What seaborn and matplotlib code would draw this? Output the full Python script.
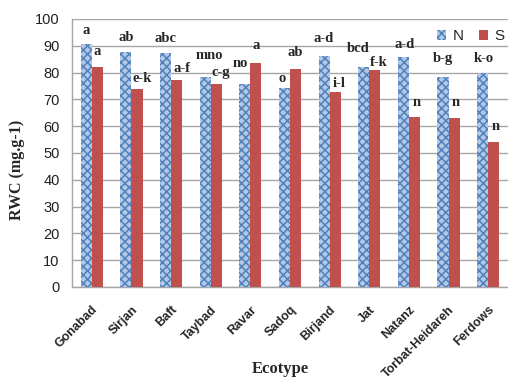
import matplotlib
matplotlib.use("Agg")
import matplotlib.pyplot as plt
from matplotlib.patches import Patch
import seaborn as sns
import pandas as pd

# Relative water content per ecotype under normal (N) and stress (S) conditions
ecotypes = ["Gonabad", "Sirjan", "Baft", "Taybad", "Ravar", "Sadoq",
            "Birjand", "Jat", "Natanz", "Torbat-Heidareh", "Ferdows"]
rwc_n = [90.5, 87.7, 87.3, 78.5, 75.9, 74.3, 86.2, 82.2, 85.7, 78.5, 80.0]
rwc_s = [82.1, 73.7, 77.4, 75.9, 83.6, 81.4, 72.8, 81.0, 63.3, 62.9, 54.0]
letters_n = ["a", "ab", "abc", "mno", "no", "o", "a-d", "bcd", "a-d", "b-g", "k-o"]
letters_s = ["a", "e-k", "a-f", "c-g", "a", "ab", "i-l", "f-k", "n", "n", "n"]
yticks = [0, 10, 20, 30, 40, 50, 60, 70, 80, 90, 100]

# Hand placement of the letter labels (pixels: shift right, baseline gap above bar)
nudge_n = [(0, 10), (0, 11), (0, 11), (4, 18), (-4, 17), (-2, 6),
           (0, 14), (-6, 15), (1, 9), (0, 15), (1, 11)]
nudge_s = [(0, 12), (5, 7), (5, 8), (5, 8), (0, 14), (0, 13),
           (4, 5), (4, 4), (2, 11), (2, 12), (2, 12)]

df = pd.DataFrame({
    "Ecotype": ecotypes * 2,
    "RWC": rwc_n + rwc_s,
    "Treatment": ["N"] * len(ecotypes) + ["S"] * len(ecotypes),
})

sns.set_style("white")
plt.rcParams["font.family"] = ["Liberation Sans", "DejaVu Sans"]
plt.rcParams["hatch.linewidth"] = 1.1

blue_face = "#b3c8e6"
blue_hatch = "#4f81bd"
red = "#c0504d"
grid_c = "#a6a6a6"
serif = ["Liberation Serif", "DejaVu Serif"]

fig = plt.figure(figsize=(5.08, 3.81), dpi=100)
ax = fig.add_axes([72 / 508, 1 - 287 / 381, 436 / 508, 268 / 381])

sns.barplot(data=df, x="Ecotype", y="RWC", hue="Treatment", order=ecotypes,
            hue_order=["N", "S"], palette=[blue_face, red], width=0.56,
            gap=0, errorbar=None, legend=False, ax=ax, zorder=3)

# Patterned fill for the N bars
for bar in ax.containers[0]:
    bar.set_facecolor(blue_face)
    bar.set_edgecolor(blue_hatch)
    bar.set_hatch("xxxx")
    bar.set_linewidth(0)
for bar in ax.containers[1]:
    bar.set_facecolor(red)
    bar.set_edgecolor(red)
    bar.set_linewidth(0)

# Significance letters above each bar
px = 72 / 100
for container, letters, nudges in zip(ax.containers, [letters_n, letters_s],
                                      [nudge_n, nudge_s]):
    for bar, lab, (dx, dy) in zip(container, letters, nudges):
        ax.annotate(lab, (bar.get_x() + bar.get_width() / 2, bar.get_height()),
                    xytext=(dx * px, dy * px), textcoords="offset points",
                    ha="center", va="baseline", fontsize=10.5,
                    fontweight="bold", family=serif, zorder=4)

ax.set_ylim(0, 100)
ax.set_xlim(-0.5, len(ecotypes) - 0.5)
ax.set_yticks(yticks)
ax.yaxis.grid(True, color=grid_c, linewidth=1.0, zorder=0)
ax.set_axisbelow(True)

for side in ["top", "right"]:
    ax.spines[side].set_visible(False)
for side in ["left", "bottom"]:
    ax.spines[side].set_color(grid_c)
    ax.spines[side].set_linewidth(1.0)

ax.tick_params(axis="y", which="major", direction="out", length=5, width=1,
               color=grid_c, labelsize=10.5, pad=4, labelcolor="#202020")
ax.set_xticks(range(len(ecotypes)))
ax.set_xticklabels(ecotypes, rotation=45, ha="right", rotation_mode="anchor",
                   fontsize=9, fontweight="bold")
ax.tick_params(axis="x", which="major", length=0, pad=12)
# Category boundary ticks below the axis
ax.set_xticks([i - 0.5 for i in range(len(ecotypes) + 1)], minor=True)
ax.tick_params(axis="x", which="minor", direction="out", length=5, width=1,
               color=grid_c)

ax.set_xlabel("")
ax.set_ylabel("")
fig.text(17 / 508, 1 - 170 / 381, "RWC (mg.g-1)", rotation=90, ha="center",
         va="center", fontsize=11.5, fontweight="bold", family=serif)
fig.text(280 / 508, 1 - 369 / 381, "Ecotype", ha="center", va="center",
         fontsize=12, fontweight="bold", family=serif)

handles = [Patch(facecolor=blue_face, edgecolor=blue_hatch, hatch="xxxx",
                 linewidth=0, label="N"),
           Patch(facecolor=red, edgecolor=red, linewidth=0, label="S")]
ax.legend(handles=handles, loc="upper right", bbox_to_anchor=(1.005, 0.985),
          ncol=2, frameon=False, fontsize=11, handlelength=0.6,
          handleheight=0.6, handletextpad=0.4, columnspacing=1.0,
          borderaxespad=0)

fig.savefig("out.png", dpi=100)
